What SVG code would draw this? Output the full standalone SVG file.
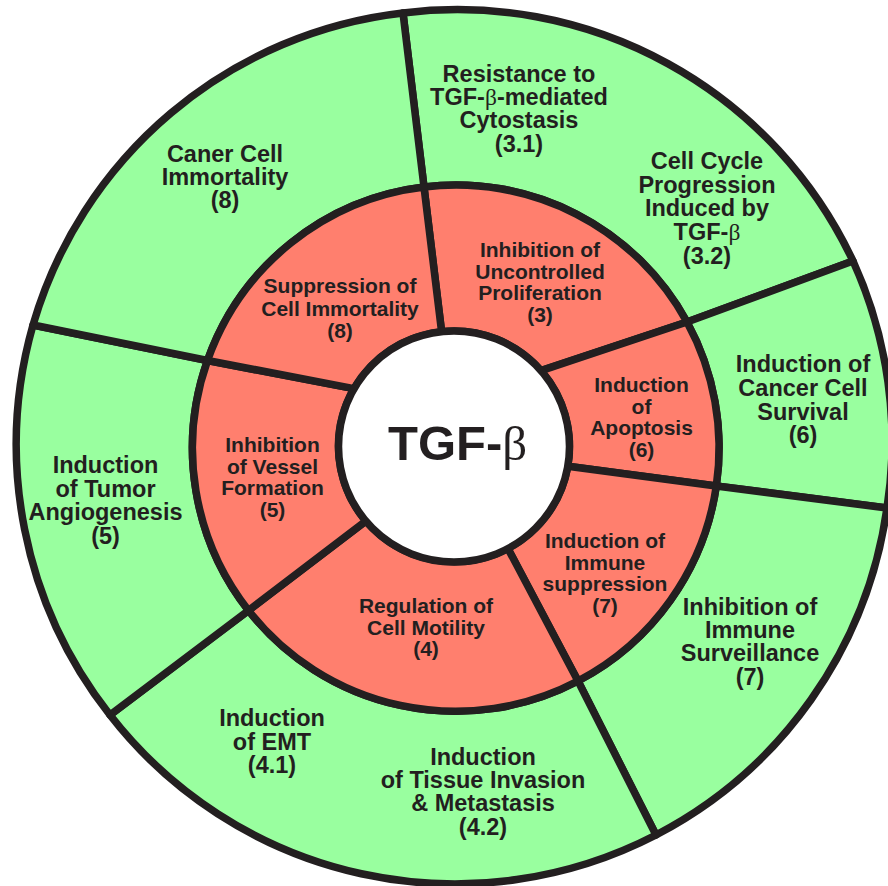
<svg xmlns="http://www.w3.org/2000/svg" width="888" height="886" viewBox="0 0 888 886">
<style>
.g{fill:#99ff9f;stroke:#231f20;stroke-width:7.5;stroke-linejoin:round}
.r{fill:#ff7f6e;stroke:#231f20;stroke-width:7.5;stroke-linejoin:round}
.w{fill:#ffffff;stroke:#231f20;stroke-width:7.5}
text{font-family:"Liberation Sans",Arial,Helvetica,sans-serif;font-weight:bold;fill:#231f20;text-anchor:middle}
.o{font-size:23.5px}
.i{font-size:21px}
.b{font-family:"Liberation Serif","DejaVu Serif",serif;font-weight:normal}
</style>
<rect width="888" height="886" fill="#ffffff"/>
<g id="outer-ring">
<g id="n-cytostasis">
<path class="g" d="M424,187 L403,13 A437,437 0 0 1 853,261 L687,322 A263,263 0 0 0 424,187 Z"/>
<text class="o"><tspan x="519" y="82">Resistance to</tspan><tspan x="519" y="105">TGF-<tspan class="b">β</tspan>-mediated</tspan><tspan x="519" y="128">Cytostasis</tspan><tspan x="519" y="151.5">(3.1)</tspan></text>
<text class="o"><tspan x="707" y="169">Cell Cycle</tspan><tspan x="707" y="192.5">Progression</tspan><tspan x="707" y="216">Induced by</tspan><tspan x="707" y="240">TGF-<tspan class="b">β</tspan></tspan><tspan x="707" y="263.5">(3.2)</tspan></text>
</g>
<g id="n-survival">
<path class="g" d="M687,322 L853,261 A437,437 0 0 1 887,508 L716.3,486 A263,263 0 0 0 687,322 Z"/>
<text class="o"><tspan x="803" y="372">Induction of</tspan><tspan x="803" y="395.7">Cancer Cell</tspan><tspan x="803" y="419.5">Survival</tspan><tspan x="803" y="443">(6)</tspan></text>
</g>
<g id="n-surveillance">
<path class="g" d="M716.3,486 L887,508 A437,437 0 0 1 656,835 L578,681 A263,263 0 0 0 716.3,486 Z"/>
<text class="o"><tspan x="750" y="615">Inhibition of</tspan><tspan x="750" y="638">Immune</tspan><tspan x="750" y="661">Surveillance</tspan><tspan x="750" y="685">(7)</tspan></text>
</g>
<g id="n-invasion">
<path class="g" d="M578,681 L656,835 A437,437 0 0 1 110,715 L248.5,610.5 A263,263 0 0 0 578,681 Z"/>
<text class="o"><tspan x="272" y="726">Induction</tspan><tspan x="272" y="749.5">of EMT</tspan><tspan x="272" y="773">(4.1)</tspan></text>
<text class="o"><tspan x="483" y="765">Induction</tspan><tspan x="483" y="788">of Tissue Invasion</tspan><tspan x="483" y="811">&amp; Metastasis</tspan><tspan x="483" y="834.5">(4.2)</tspan></text>
</g>
<g id="n-angiogenesis">
<path class="g" d="M248.5,610.5 L110,715 A437,437 0 0 1 33,325 L207.5,360.5 A263,263 0 0 0 248.5,610.5 Z"/>
<text class="o"><tspan x="105.5" y="473">Induction</tspan><tspan x="105.5" y="496.5">of Tumor</tspan><tspan x="105.5" y="520">Angiogenesis</tspan><tspan x="105.5" y="543.5">(5)</tspan></text>
</g>
<g id="n-immortality">
<path class="g" d="M207.5,360.5 L33,325 A437,437 0 0 1 403,13 L424,187 A263,263 0 0 0 207.5,360.5 Z"/>
<text class="o"><tspan x="225" y="162">Caner Cell</tspan><tspan x="225" y="185">Immortality</tspan><tspan x="225" y="208">(8)</tspan></text>
</g>
</g>
<g id="inner-ring">
<g id="n-proliferation">
<path class="r" d="M441.6,331.7 L424,187 A263,263 0 0 1 687,322 L541.1,370.6 A115.5,115.5 0 0 0 441.6,331.7 Z"/>
<text class="i"><tspan x="540" y="257">Inhibition of</tspan><tspan x="540" y="278.5">Uncontrolled</tspan><tspan x="540" y="300">Proliferation</tspan><tspan x="540" y="321.5">(3)</tspan></text>
</g>
<g id="n-apoptosis">
<path class="r" d="M541.1,370.6 L687,322 A263,263 0 0 1 716.3,486 L567.8,466.3 A115.5,115.5 0 0 0 541.1,370.6 Z"/>
<text class="i"><tspan x="641.5" y="392">Induction</tspan><tspan x="641.5" y="413.5">of</tspan><tspan x="641.5" y="435">Apoptosis</tspan><tspan x="641.5" y="456.5">(6)</tspan></text>
</g>
<g id="n-immunesuppression">
<path class="r" d="M567.8,466.3 L716.3,486 A263,263 0 0 1 578,681 L507.9,548.4 A115.5,115.5 0 0 0 567.8,466.3 Z"/>
<text class="i"><tspan x="605" y="548">Induction of</tspan><tspan x="605" y="569.5">Immune</tspan><tspan x="605" y="590.5">suppression</tspan><tspan x="605" y="612.5">(7)</tspan></text>
</g>
<g id="n-motility">
<path class="r" d="M507.9,548.4 L578,681 A263,263 0 0 1 248.5,610.5 L365.9,520.9 A115.5,115.5 0 0 0 507.9,548.4 Z"/>
<text class="i"><tspan x="426" y="613">Regulation of</tspan><tspan x="426" y="634.5">Cell Motility</tspan><tspan x="426" y="656">(4)</tspan></text>
</g>
<g id="n-vessel">
<path class="r" d="M365.9,520.9 L248.5,610.5 A263,263 0 0 1 207.5,360.5 L353.9,388.6 A115.5,115.5 0 0 0 365.9,520.9 Z"/>
<text class="i"><tspan x="272.5" y="452">Inhibition</tspan><tspan x="272.5" y="473.5">of Vessel</tspan><tspan x="272.5" y="495">Formation</tspan><tspan x="272.5" y="517">(5)</tspan></text>
</g>
<g id="n-suppression">
<path class="r" d="M353.9,388.6 L207.5,360.5 A263,263 0 0 1 424,187 L441.6,331.7 A115.5,115.5 0 0 0 353.9,388.6 Z"/>
<text class="i"><tspan x="340" y="293.3">Suppression of</tspan><tspan x="340" y="315.5">Cell Immortality</tspan><tspan x="340" y="337.7">(8)</tspan></text>
</g>
</g>
<g id="n-tgfb">
<circle class="w" cx="454" cy="446.5" r="115.5"/>
<text x="388" y="460" style="font-size:49px;text-anchor:start">TGF-<tspan class="b">β</tspan></text>
</g>
</svg>
